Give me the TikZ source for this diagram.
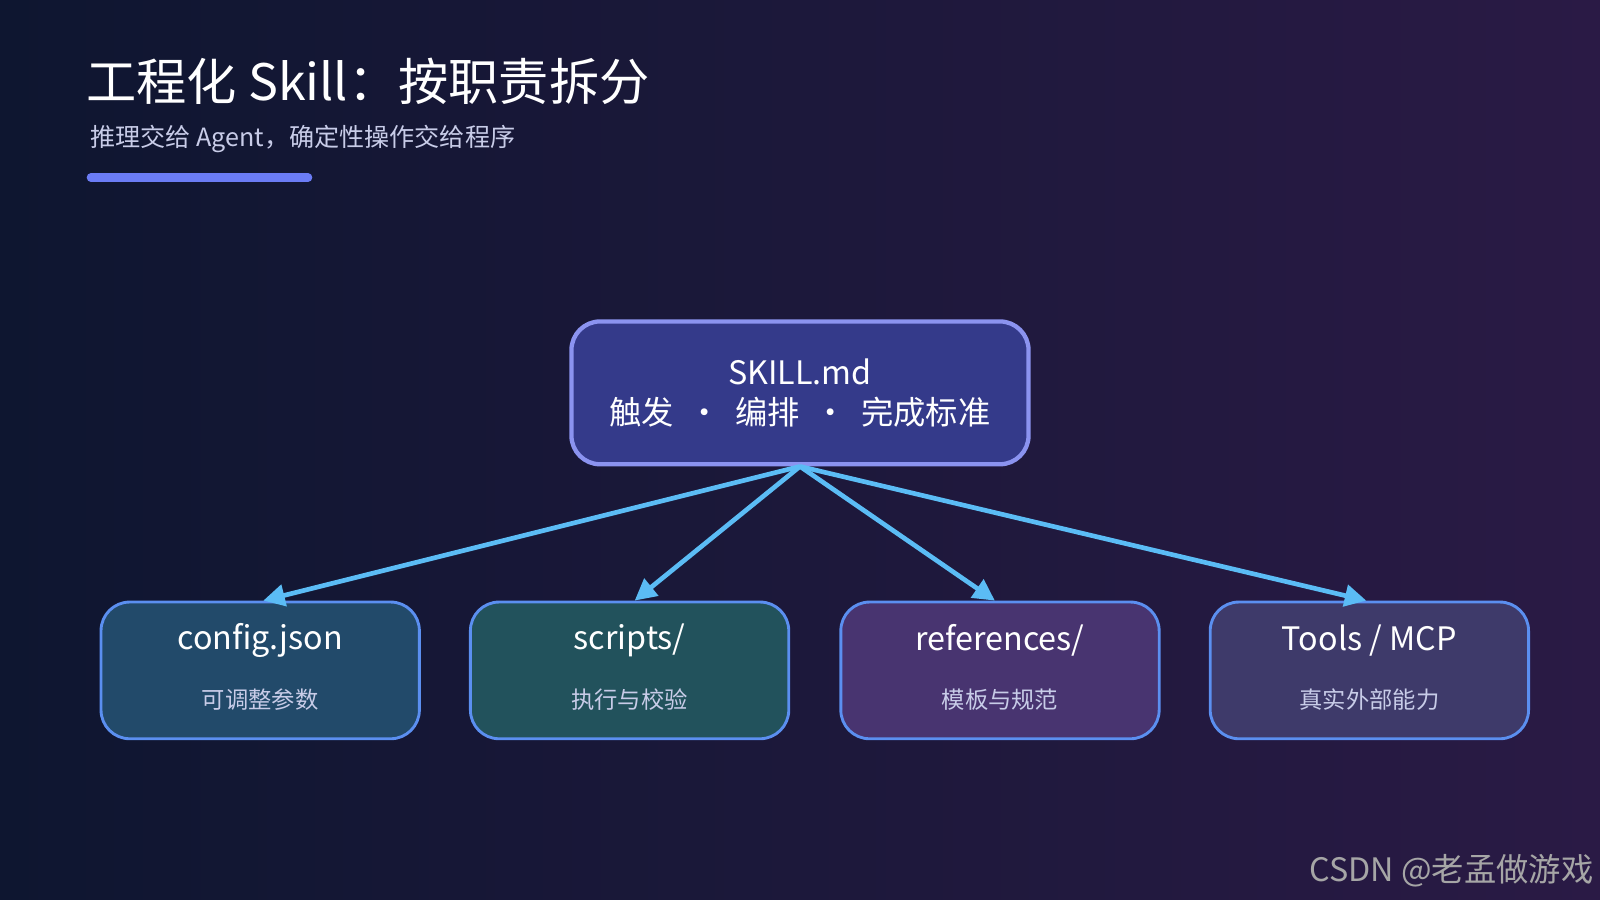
\documentclass[tikz,border=0pt]{standalone}
\usepackage{fontspec}
\setmainfont{Noto Sans CJK SC}
\usetikzlibrary{positioning,arrows.meta}
\definecolor{bgA}{HTML}{0E1630}
\definecolor{bgB}{HTML}{2A1A45}
\definecolor{accent}{HTML}{6B7CF5}
\definecolor{linkc}{HTML}{5BBCF5}
\definecolor{topfill}{HTML}{343A8A}
\definecolor{topdraw}{HTML}{8B93F0}
\definecolor{subdraw}{HTML}{5B8FF0}
\definecolor{subtxt}{HTML}{C8CCE8}
\newlength{\unitx}\setlength{\unitx}{0.01cm}
\tikzset{
  topbox/.style={draw=topdraw,line width=1.2pt,fill=topfill,rounded corners=8pt,
    minimum width=448\unitx,minimum height=140\unitx,align=center,text=white,
    font=\fontsize{9}{11}\selectfont},
  leaf/.style={draw=subdraw,line width=0.8pt,rounded corners=8pt,
    minimum width=312\unitx,minimum height=134\unitx,align=center,text=white},
  link/.style={draw=linkc,line width=1.3pt,-{Triangle[length=6pt,width=6pt]}}
}
\begin{document}
\begin{tikzpicture}[x=0.01cm,y=-0.01cm]
  % background
  \shade[left color=bgA,right color=bgB] (0,0) rectangle (1568,882);
  \useasboundingbox (0,0) rectangle (1568,882);
  % title
  \node[anchor=west,text=white,font=\fontsize{14}{16}\selectfont] (title) at (72,80) {工程化 Skill：按职责拆分};
  \node[anchor=west,text=subtxt,font=\fontsize{7}{9}\selectfont] (subtitle) at (76,136) {推理交给 Agent，确定性操作交给程序};
  \draw[accent,line width=2.3pt,line cap=round] (89,174) -- (302,174);
  % boxes
  \node[topbox] (top) at (784,385) {SKILL.md\\触发 \ · \ 编排 \ · \ 完成标准};
  \foreach \nm/\cx/\fc/\ta/\tb in {cfg/255/224A6A/config.json/可调整参数,
      scr/617/22525C/{scripts/}/执行与校验,
      ref/980/483470/{references/}/模板与规范,
      tools/1342/3E3A6A/{Tools / MCP}/真实外部能力}{
    \definecolor{cur}{HTML}{\fc}
    \node[leaf,fill=cur] (\nm) at (\cx,657) {};
    \node[text=white,font=\fontsize{9}{11}\selectfont] (\nm-a) at (\cx,628) {\ta};
    \node[text=subtxt,font=\fontsize{6.5}{8}\selectfont] (\nm-b) at (\cx,686) {\tb};
  }
  % connectors
  \foreach \nm/\dx in {cfg/3,scr/5,ref/-5,tools/-3}
    \draw[link] (top.south) -- ([xshift=\dx\unitx]\nm.north);
  % watermark
  \node[anchor=east,text=gray!70,font=\fontsize{9}{11}\selectfont] (mark) at (1574,853) {CSDN @老孟做游戏};
\end{tikzpicture}
\end{document}
